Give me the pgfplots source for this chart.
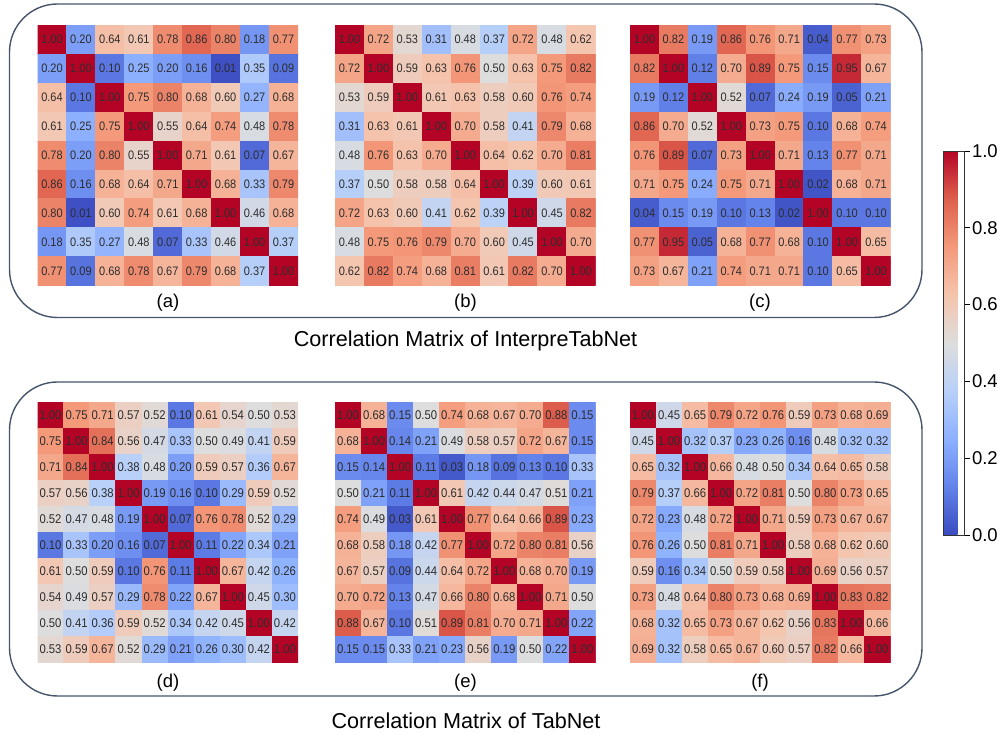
\documentclass[border=0pt]{standalone}
\usepackage{fontspec}
\setmainfont{Liberation Sans}
\usepackage{graphicx}
\usepackage{pgfplots}
\usepackage{pgfplotstable}
\pgfplotsset{compat=1.18}
\definecolor{boxc}{RGB}{70,84,108}
\definecolor{anno}{RGB}{45,45,45}
\pgfplotsset{
  colormap={coolwarm}{rgb255=(59,76,192) rgb255=(98,130,234) rgb255=(141,176,254) rgb255=(184,208,249) rgb255=(221,221,221) rgb255=(245,196,173) rgb255=(244,154,123) rgb255=(222,96,77) rgb255=(180,4,38)},
  hm/.style={scale only axis, width=260.5bp, height=260.5bp, hide axis, anchor=north west,
    y dir=reverse, enlargelimits=false, colormap name=coolwarm, point meta min=0, point meta max=1,
    /pgf/number format/assume math mode=true},
  hm9/.style={hm, xmin=-0.5, xmax=8.5, ymin=-0.5, ymax=8.5},
  hm10/.style={hm, xmin=-0.5, xmax=9.5, ymin=-0.5, ymax=9.5},
  hmplot/.style 2 args={matrix plot*, mesh/cols=#1, point meta=explicit,
    nodes near coords={\scalebox{1}[1.12]{\pgfmathprintnumber[fixed,fixed zerofill,precision=2]{\pgfplotspointmeta}}},
    every node near coord/.append style={anchor=center, text=anno, inner sep=0pt, font=\fontsize{#2}{#2}\selectfont}},
}
\pgfplotstableread[row sep=\\]{
x y c\\
0 0 1.00\\ 1 0 0.20\\ 2 0 0.64\\ 3 0 0.61\\ 4 0 0.78\\ 5 0 0.86\\ 6 0 0.80\\ 7 0 0.18\\ 8 0 0.77\\
0 1 0.20\\ 1 1 1.00\\ 2 1 0.10\\ 3 1 0.25\\ 4 1 0.20\\ 5 1 0.16\\ 6 1 0.01\\ 7 1 0.35\\ 8 1 0.09\\
0 2 0.64\\ 1 2 0.10\\ 2 2 1.00\\ 3 2 0.75\\ 4 2 0.80\\ 5 2 0.68\\ 6 2 0.60\\ 7 2 0.27\\ 8 2 0.68\\
0 3 0.61\\ 1 3 0.25\\ 2 3 0.75\\ 3 3 1.00\\ 4 3 0.55\\ 5 3 0.64\\ 6 3 0.74\\ 7 3 0.48\\ 8 3 0.78\\
0 4 0.78\\ 1 4 0.20\\ 2 4 0.80\\ 3 4 0.55\\ 4 4 1.00\\ 5 4 0.71\\ 6 4 0.61\\ 7 4 0.07\\ 8 4 0.67\\
0 5 0.86\\ 1 5 0.16\\ 2 5 0.68\\ 3 5 0.64\\ 4 5 0.71\\ 5 5 1.00\\ 6 5 0.68\\ 7 5 0.33\\ 8 5 0.79\\
0 6 0.80\\ 1 6 0.01\\ 2 6 0.60\\ 3 6 0.74\\ 4 6 0.61\\ 5 6 0.68\\ 6 6 1.00\\ 7 6 0.46\\ 8 6 0.68\\
0 7 0.18\\ 1 7 0.35\\ 2 7 0.27\\ 3 7 0.48\\ 4 7 0.07\\ 5 7 0.33\\ 6 7 0.46\\ 7 7 1.00\\ 8 7 0.37\\
0 8 0.77\\ 1 8 0.09\\ 2 8 0.68\\ 3 8 0.78\\ 4 8 0.67\\ 5 8 0.79\\ 6 8 0.68\\ 7 8 0.37\\ 8 8 1.00\\
}\tabA
\pgfplotstableread[row sep=\\]{
x y c\\
0 0 1.00\\ 1 0 0.72\\ 2 0 0.53\\ 3 0 0.31\\ 4 0 0.48\\ 5 0 0.37\\ 6 0 0.72\\ 7 0 0.48\\ 8 0 0.62\\
0 1 0.72\\ 1 1 1.00\\ 2 1 0.59\\ 3 1 0.63\\ 4 1 0.76\\ 5 1 0.50\\ 6 1 0.63\\ 7 1 0.75\\ 8 1 0.82\\
0 2 0.53\\ 1 2 0.59\\ 2 2 1.00\\ 3 2 0.61\\ 4 2 0.63\\ 5 2 0.58\\ 6 2 0.60\\ 7 2 0.76\\ 8 2 0.74\\
0 3 0.31\\ 1 3 0.63\\ 2 3 0.61\\ 3 3 1.00\\ 4 3 0.70\\ 5 3 0.58\\ 6 3 0.41\\ 7 3 0.79\\ 8 3 0.68\\
0 4 0.48\\ 1 4 0.76\\ 2 4 0.63\\ 3 4 0.70\\ 4 4 1.00\\ 5 4 0.64\\ 6 4 0.62\\ 7 4 0.70\\ 8 4 0.81\\
0 5 0.37\\ 1 5 0.50\\ 2 5 0.58\\ 3 5 0.58\\ 4 5 0.64\\ 5 5 1.00\\ 6 5 0.39\\ 7 5 0.60\\ 8 5 0.61\\
0 6 0.72\\ 1 6 0.63\\ 2 6 0.60\\ 3 6 0.41\\ 4 6 0.62\\ 5 6 0.39\\ 6 6 1.00\\ 7 6 0.45\\ 8 6 0.82\\
0 7 0.48\\ 1 7 0.75\\ 2 7 0.76\\ 3 7 0.79\\ 4 7 0.70\\ 5 7 0.60\\ 6 7 0.45\\ 7 7 1.00\\ 8 7 0.70\\
0 8 0.62\\ 1 8 0.82\\ 2 8 0.74\\ 3 8 0.68\\ 4 8 0.81\\ 5 8 0.61\\ 6 8 0.82\\ 7 8 0.70\\ 8 8 1.00\\
}\tabB
\pgfplotstableread[row sep=\\]{
x y c\\
0 0 1.00\\ 1 0 0.82\\ 2 0 0.19\\ 3 0 0.86\\ 4 0 0.76\\ 5 0 0.71\\ 6 0 0.04\\ 7 0 0.77\\ 8 0 0.73\\
0 1 0.82\\ 1 1 1.00\\ 2 1 0.12\\ 3 1 0.70\\ 4 1 0.89\\ 5 1 0.75\\ 6 1 0.15\\ 7 1 0.95\\ 8 1 0.67\\
0 2 0.19\\ 1 2 0.12\\ 2 2 1.00\\ 3 2 0.52\\ 4 2 0.07\\ 5 2 0.24\\ 6 2 0.19\\ 7 2 0.05\\ 8 2 0.21\\
0 3 0.86\\ 1 3 0.70\\ 2 3 0.52\\ 3 3 1.00\\ 4 3 0.73\\ 5 3 0.75\\ 6 3 0.10\\ 7 3 0.68\\ 8 3 0.74\\
0 4 0.76\\ 1 4 0.89\\ 2 4 0.07\\ 3 4 0.73\\ 4 4 1.00\\ 5 4 0.71\\ 6 4 0.13\\ 7 4 0.77\\ 8 4 0.71\\
0 5 0.71\\ 1 5 0.75\\ 2 5 0.24\\ 3 5 0.75\\ 4 5 0.71\\ 5 5 1.00\\ 6 5 0.02\\ 7 5 0.68\\ 8 5 0.71\\
0 6 0.04\\ 1 6 0.15\\ 2 6 0.19\\ 3 6 0.10\\ 4 6 0.13\\ 5 6 0.02\\ 6 6 1.00\\ 7 6 0.10\\ 8 6 0.10\\
0 7 0.77\\ 1 7 0.95\\ 2 7 0.05\\ 3 7 0.68\\ 4 7 0.77\\ 5 7 0.68\\ 6 7 0.10\\ 7 7 1.00\\ 8 7 0.65\\
0 8 0.73\\ 1 8 0.67\\ 2 8 0.21\\ 3 8 0.74\\ 4 8 0.71\\ 5 8 0.71\\ 6 8 0.10\\ 7 8 0.65\\ 8 8 1.00\\
}\tabC
\pgfplotstableread[row sep=\\]{
x y c\\
0 0 1.00\\ 1 0 0.75\\ 2 0 0.71\\ 3 0 0.57\\ 4 0 0.52\\ 5 0 0.10\\ 6 0 0.61\\ 7 0 0.54\\ 8 0 0.50\\ 9 0 0.53\\
0 1 0.75\\ 1 1 1.00\\ 2 1 0.84\\ 3 1 0.56\\ 4 1 0.47\\ 5 1 0.33\\ 6 1 0.50\\ 7 1 0.49\\ 8 1 0.41\\ 9 1 0.59\\
0 2 0.71\\ 1 2 0.84\\ 2 2 1.00\\ 3 2 0.38\\ 4 2 0.48\\ 5 2 0.20\\ 6 2 0.59\\ 7 2 0.57\\ 8 2 0.36\\ 9 2 0.67\\
0 3 0.57\\ 1 3 0.56\\ 2 3 0.38\\ 3 3 1.00\\ 4 3 0.19\\ 5 3 0.16\\ 6 3 0.10\\ 7 3 0.29\\ 8 3 0.59\\ 9 3 0.52\\
0 4 0.52\\ 1 4 0.47\\ 2 4 0.48\\ 3 4 0.19\\ 4 4 1.00\\ 5 4 0.07\\ 6 4 0.76\\ 7 4 0.78\\ 8 4 0.52\\ 9 4 0.29\\
0 5 0.10\\ 1 5 0.33\\ 2 5 0.20\\ 3 5 0.16\\ 4 5 0.07\\ 5 5 1.00\\ 6 5 0.11\\ 7 5 0.22\\ 8 5 0.34\\ 9 5 0.21\\
0 6 0.61\\ 1 6 0.50\\ 2 6 0.59\\ 3 6 0.10\\ 4 6 0.76\\ 5 6 0.11\\ 6 6 1.00\\ 7 6 0.67\\ 8 6 0.42\\ 9 6 0.26\\
0 7 0.54\\ 1 7 0.49\\ 2 7 0.57\\ 3 7 0.29\\ 4 7 0.78\\ 5 7 0.22\\ 6 7 0.67\\ 7 7 1.00\\ 8 7 0.45\\ 9 7 0.30\\
0 8 0.50\\ 1 8 0.41\\ 2 8 0.36\\ 3 8 0.59\\ 4 8 0.52\\ 5 8 0.34\\ 6 8 0.42\\ 7 8 0.45\\ 8 8 1.00\\ 9 8 0.42\\
0 9 0.53\\ 1 9 0.59\\ 2 9 0.67\\ 3 9 0.52\\ 4 9 0.29\\ 5 9 0.21\\ 6 9 0.26\\ 7 9 0.30\\ 8 9 0.42\\ 9 9 1.00\\
}\tabD
\pgfplotstableread[row sep=\\]{
x y c\\
0 0 1.00\\ 1 0 0.68\\ 2 0 0.15\\ 3 0 0.50\\ 4 0 0.74\\ 5 0 0.68\\ 6 0 0.67\\ 7 0 0.70\\ 8 0 0.88\\ 9 0 0.15\\
0 1 0.68\\ 1 1 1.00\\ 2 1 0.14\\ 3 1 0.21\\ 4 1 0.49\\ 5 1 0.58\\ 6 1 0.57\\ 7 1 0.72\\ 8 1 0.67\\ 9 1 0.15\\
0 2 0.15\\ 1 2 0.14\\ 2 2 1.00\\ 3 2 0.11\\ 4 2 0.03\\ 5 2 0.18\\ 6 2 0.09\\ 7 2 0.13\\ 8 2 0.10\\ 9 2 0.33\\
0 3 0.50\\ 1 3 0.21\\ 2 3 0.11\\ 3 3 1.00\\ 4 3 0.61\\ 5 3 0.42\\ 6 3 0.44\\ 7 3 0.47\\ 8 3 0.51\\ 9 3 0.21\\
0 4 0.74\\ 1 4 0.49\\ 2 4 0.03\\ 3 4 0.61\\ 4 4 1.00\\ 5 4 0.77\\ 6 4 0.64\\ 7 4 0.66\\ 8 4 0.89\\ 9 4 0.23\\
0 5 0.68\\ 1 5 0.58\\ 2 5 0.18\\ 3 5 0.42\\ 4 5 0.77\\ 5 5 1.00\\ 6 5 0.72\\ 7 5 0.80\\ 8 5 0.81\\ 9 5 0.56\\
0 6 0.67\\ 1 6 0.57\\ 2 6 0.09\\ 3 6 0.44\\ 4 6 0.64\\ 5 6 0.72\\ 6 6 1.00\\ 7 6 0.68\\ 8 6 0.70\\ 9 6 0.19\\
0 7 0.70\\ 1 7 0.72\\ 2 7 0.13\\ 3 7 0.47\\ 4 7 0.66\\ 5 7 0.80\\ 6 7 0.68\\ 7 7 1.00\\ 8 7 0.71\\ 9 7 0.50\\
0 8 0.88\\ 1 8 0.67\\ 2 8 0.10\\ 3 8 0.51\\ 4 8 0.89\\ 5 8 0.81\\ 6 8 0.70\\ 7 8 0.71\\ 8 8 1.00\\ 9 8 0.22\\
0 9 0.15\\ 1 9 0.15\\ 2 9 0.33\\ 3 9 0.21\\ 4 9 0.23\\ 5 9 0.56\\ 6 9 0.19\\ 7 9 0.50\\ 8 9 0.22\\ 9 9 1.00\\
}\tabE
\pgfplotstableread[row sep=\\]{
x y c\\
0 0 1.00\\ 1 0 0.45\\ 2 0 0.65\\ 3 0 0.79\\ 4 0 0.72\\ 5 0 0.76\\ 6 0 0.59\\ 7 0 0.73\\ 8 0 0.68\\ 9 0 0.69\\
0 1 0.45\\ 1 1 1.00\\ 2 1 0.32\\ 3 1 0.37\\ 4 1 0.23\\ 5 1 0.26\\ 6 1 0.16\\ 7 1 0.48\\ 8 1 0.32\\ 9 1 0.32\\
0 2 0.65\\ 1 2 0.32\\ 2 2 1.00\\ 3 2 0.66\\ 4 2 0.48\\ 5 2 0.50\\ 6 2 0.34\\ 7 2 0.64\\ 8 2 0.65\\ 9 2 0.58\\
0 3 0.79\\ 1 3 0.37\\ 2 3 0.66\\ 3 3 1.00\\ 4 3 0.72\\ 5 3 0.81\\ 6 3 0.50\\ 7 3 0.80\\ 8 3 0.73\\ 9 3 0.65\\
0 4 0.72\\ 1 4 0.23\\ 2 4 0.48\\ 3 4 0.72\\ 4 4 1.00\\ 5 4 0.71\\ 6 4 0.59\\ 7 4 0.73\\ 8 4 0.67\\ 9 4 0.67\\
0 5 0.76\\ 1 5 0.26\\ 2 5 0.50\\ 3 5 0.81\\ 4 5 0.71\\ 5 5 1.00\\ 6 5 0.58\\ 7 5 0.68\\ 8 5 0.62\\ 9 5 0.60\\
0 6 0.59\\ 1 6 0.16\\ 2 6 0.34\\ 3 6 0.50\\ 4 6 0.59\\ 5 6 0.58\\ 6 6 1.00\\ 7 6 0.69\\ 8 6 0.56\\ 9 6 0.57\\
0 7 0.73\\ 1 7 0.48\\ 2 7 0.64\\ 3 7 0.80\\ 4 7 0.73\\ 5 7 0.68\\ 6 7 0.69\\ 7 7 1.00\\ 8 7 0.83\\ 9 7 0.82\\
0 8 0.68\\ 1 8 0.32\\ 2 8 0.65\\ 3 8 0.73\\ 4 8 0.67\\ 5 8 0.62\\ 6 8 0.56\\ 7 8 0.83\\ 8 8 1.00\\ 9 8 0.66\\
0 9 0.69\\ 1 9 0.32\\ 2 9 0.58\\ 3 9 0.65\\ 4 9 0.67\\ 5 9 0.60\\ 6 9 0.57\\ 7 9 0.82\\ 8 9 0.66\\ 9 9 1.00\\
}\tabF
\begin{document}
\begin{tikzpicture}
\path[use as bounding box] (0,0) rectangle (997bp,734bp);
% rounded frames
\draw[boxc, line width=1.4bp, rounded corners=48bp] (9.5bp,730bp) rectangle (922bp,416.5bp);
\draw[boxc, line width=1.4bp, rounded corners=48bp] (9.5bp,352bp) rectangle (922bp,38bp);
% top heatmaps
\begin{axis}[hm9, at={(37.5bp,709bp)}]
\addplot[hmplot={9}{11bp}] table[x=x, y=y, meta=c] {\tabA};
\end{axis}
\begin{axis}[hm9, at={(335bp,709bp)}]
\addplot[hmplot={9}{11bp}] table[x=x, y=y, meta=c] {\tabB};
\end{axis}
\begin{axis}[hm9, at={(630bp,709bp)}]
\addplot[hmplot={9}{11bp}] table[x=x, y=y, meta=c] {\tabC};
\end{axis}
% bottom heatmaps
\begin{axis}[hm10, at={(37.5bp,332bp)}]
\addplot[hmplot={10}{11.3bp}] table[x=x, y=y, meta=c] {\tabD};
\end{axis}
\begin{axis}[hm10, at={(335bp,332bp)}]
\addplot[hmplot={10}{11.3bp}] table[x=x, y=y, meta=c] {\tabE};
\end{axis}
\begin{axis}[hm10, at={(630bp,332bp)}]
\addplot[hmplot={10}{11.3bp}] table[x=x, y=y, meta=c] {\tabF};
\end{axis}
% colorbar
\begin{axis}[at={(935bp,583bp)}, anchor=north west, scale only axis, width=21bp, height=384bp,
  hide axis, colormap name=coolwarm, point meta min=0, point meta max=1,
  colorbar,
  colorbar style={at={(parent axis.north west)}, anchor=north west, width=21bp, height=384bp,
    scale only axis, ytick={0,0.2,0.4,0.6,0.8,1.0}, ytick pos=right, yticklabel pos=right,
    tick align=outside, major tick length=5bp,
    ytick style={black, line width=0.8bp}, axis line style={black!80, line width=0.8bp},
    yticklabel style={font=\fontsize{18.5bp}{20bp}\selectfont, xshift=-1bp,
      /pgf/number format/.cd, fixed, fixed zerofill, precision=1, assume math mode=true}}]
\addplot[draw=none] coordinates {(0,0) (1,1)};
\end{axis}
% labels
\begin{scope}[every node/.style={font=\fontsize{18.5bp}{20bp}\selectfont, inner sep=0pt}]
\node at (168bp,431bp) {(a)};
\node at (465.5bp,431bp) {(b)};
\node at (760bp,431bp) {(c)};
\node at (168bp,51bp) {(d)};
\node at (465.5bp,51bp) {(e)};
\node at (760bp,51bp) {(f)};
\end{scope}
\node[font=\fontsize{21.6bp}{24bp}\selectfont, inner sep=0pt] at (465.5bp,393bp) {Correlation Matrix of InterpreTabNet};
\node[font=\fontsize{21.6bp}{24bp}\selectfont, inner sep=0pt] at (466bp,13bp) {Correlation Matrix of TabNet};
\end{tikzpicture}
\end{document}
